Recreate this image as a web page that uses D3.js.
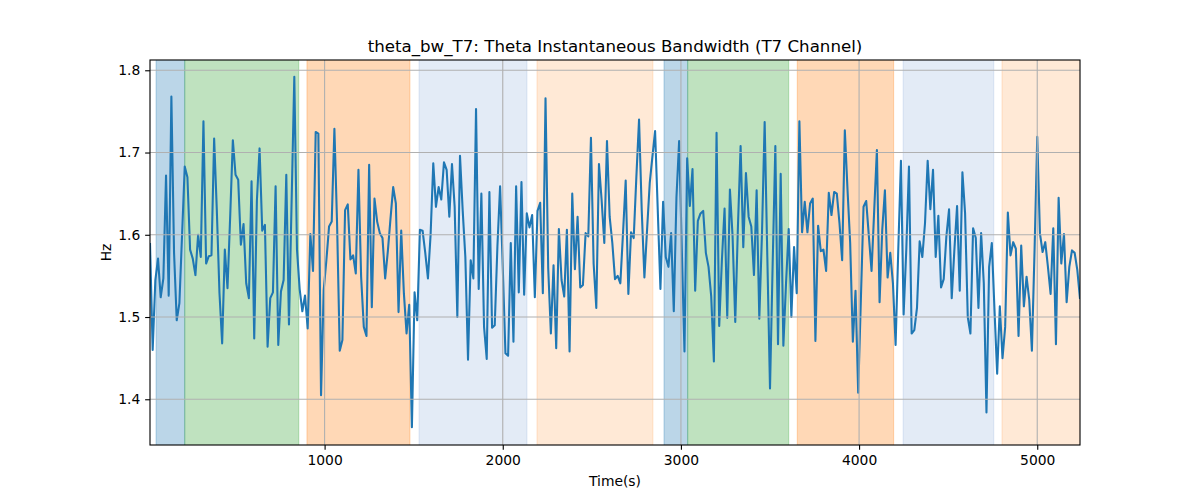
<!DOCTYPE html>
<html>
<head>
<meta charset="utf-8">
<script src="https://cdn.jsdelivr.net/npm/d3@7"></script>
<style>
  html, body { margin: 0; padding: 0; background: #fff; }
  svg { display: block; font-family: "DejaVu Sans", sans-serif; }
</style>
</head>
<body>
<svg id="chart" width="1200" height="500"></svg>
<script>
// ---- data ----
const title = "theta_bw_T7: Theta Instantaneous Bandwidth (T7 Channel)";
const xLabel = "Time(s)";
const yLabel = "Hz";
const timeStart = 20;   // seconds, first sample
const timeStep = 15;    // seconds between samples
const bandwidth = [
  1.590,1.460,1.545,1.571,1.524,1.547,1.672,1.526,1.768,1.578,
  1.496,1.517,1.600,1.683,1.670,1.582,1.571,1.551,1.600,1.573,
  1.738,1.565,1.574,1.575,1.717,1.630,1.529,1.468,1.582,1.535,
  1.622,1.715,1.673,1.667,1.588,1.613,1.541,1.523,1.665,1.474,
  1.642,1.705,1.605,1.612,1.464,1.523,1.530,1.659,1.466,1.531,
  1.545,1.673,1.491,1.642,1.792,1.582,1.534,1.507,1.526,1.486,
  1.601,1.556,1.725,1.723,1.405,1.533,1.569,1.610,1.616,1.729,
  1.614,1.459,1.472,1.630,1.637,1.570,1.575,1.553,1.679,1.549,
  1.488,1.477,1.685,1.512,1.644,1.616,1.602,1.596,1.547,1.580,
  1.620,1.658,1.638,1.506,1.605,1.529,1.480,1.515,1.366,1.530,
  1.496,1.606,1.605,1.578,1.547,1.600,1.687,1.634,1.658,1.643,
  1.688,1.679,1.622,1.686,1.634,1.500,1.696,1.630,1.573,1.448,
  1.569,1.547,1.753,1.534,1.650,1.488,1.449,1.652,1.487,1.490,
  1.586,1.659,1.561,1.456,1.453,1.590,1.470,1.659,1.530,1.664,
  1.527,1.626,1.609,1.624,1.524,1.629,1.639,1.529,1.766,1.560,
  1.480,1.563,1.462,1.607,1.545,1.525,1.606,1.458,1.650,1.558,
  1.622,1.536,1.539,1.602,1.598,1.718,1.565,1.511,1.686,1.642,
  1.590,1.714,1.622,1.590,1.546,1.550,1.541,1.602,1.666,1.528,
  1.603,1.596,1.671,1.740,1.630,1.548,1.606,1.663,1.695,1.726,
  1.630,1.534,1.640,1.573,1.561,1.602,1.507,1.646,1.714,1.582,
  1.458,1.693,1.635,1.680,1.532,1.617,1.626,1.629,1.578,1.561,
  1.525,1.446,1.724,1.489,1.569,1.632,1.499,1.655,1.598,1.494,
  1.610,1.708,1.585,1.675,1.622,1.610,1.551,1.654,1.498,1.602,
  1.737,1.573,1.413,1.565,1.708,1.467,1.674,1.465,1.541,1.607,
  1.500,1.585,1.529,1.738,1.603,1.640,1.603,1.638,1.644,1.471,
  1.611,1.580,1.582,1.556,1.651,1.624,1.652,1.650,1.614,1.569,
  1.727,1.655,1.590,1.470,1.532,1.408,1.521,1.634,1.641,1.598,
  1.556,1.630,1.703,1.518,1.606,1.654,1.548,1.578,1.541,1.466,
  1.582,1.690,1.503,1.582,1.683,1.480,1.484,1.511,1.592,1.573,
  1.614,1.690,1.631,1.679,1.573,1.623,1.536,1.546,1.598,1.631,
  1.523,1.582,1.635,1.532,1.676,1.626,1.500,1.480,1.608,1.596,
  1.511,1.602,1.541,1.384,1.561,1.590,1.509,1.431,1.513,1.450,
  1.488,1.627,1.575,1.591,1.583,1.477,1.587,1.513,1.549,1.521,
  1.459,1.582,1.719,1.602,1.579,1.591,1.561,1.528,1.608,1.467,
  1.645,1.565,1.601,1.518,1.561,1.581,1.578,1.557,1.522
];
const spanStarts = [54, 215, 901, 1530, 2192, 2905, 3038, 3653, 4247, 4802];
const spanEnds   = [215, 855, 1479, 2136, 2843, 3038, 3605, 4194, 4756, 5300];
const spanKinds  = ["A", "B", "C", "D", "E", "A", "B", "C", "D", "E"];
const xTicks = [1000, 2000, 3000, 4000, 5000];
const yTicks = [1.4, 1.5, 1.6, 1.7, 1.8];

// ---- styles ----
const spanFill = {
  A: "rgba(31,119,180,0.3)",
  B: "rgba(44,160,44,0.3)",
  C: "rgba(255,127,14,0.3)",
  D: "rgba(68,122,195,0.15)",
  E: "rgba(255,127,14,0.17)"
};
const lineColor = "#1f77b4";
const gridColor = "#b0b0b0";
const pt = 100 / 72;

// ---- layout ----
const L = 150, R = 1080, T = 60, B = 445;
const W = R - L, H = B - T;

const times = bandwidth.map((_, i) => timeStart + i * timeStep);
const data = bandwidth.map((v, i) => ({ t: times[i], v }));

const x = d3.scaleLinear().domain([times[0], times[times.length - 1]]).range([L, R]);
const y = d3.scaleLinear().domain([1.3444, 1.8125]).range([B, T]);

const svg = d3.select("#chart");
svg.append("defs").append("clipPath").attr("id", "clip")
  .append("rect").attr("x", L).attr("y", T).attr("width", W).attr("height", H);

const plot = svg.append("g").attr("clip-path", "url(#clip)");

// spans
plot.selectAll("rect.span").data(spanStarts.map((s, i) => ({ s, e: spanEnds[i], k: spanKinds[i] })))
  .enter().append("rect").attr("class", "span")
  .attr("x", d => x(d.s)).attr("y", T - 3)
  .attr("width", d => x(d.e) - x(d.s)).attr("height", H + 6)
  .attr("fill", d => spanFill[d.k])
  .attr("stroke", d => spanFill[d.k]).attr("stroke-width", 1);

// grid
const grid = svg.append("g");
grid.selectAll("line.gx").data(xTicks).enter().append("line")
  .attr("x1", d => x(d)).attr("x2", d => x(d)).attr("y1", T).attr("y2", B)
  .attr("stroke", gridColor).attr("stroke-width", 0.8 * pt);
grid.selectAll("line.gy").data(yTicks).enter().append("line")
  .attr("x1", L).attr("x2", R).attr("y1", d => y(d)).attr("y2", d => y(d))
  .attr("stroke", gridColor).attr("stroke-width", 0.8 * pt);

// line
plot.append("path").datum(data)
  .attr("fill", "none").attr("stroke", lineColor).attr("stroke-width", 1.5 * pt)
  .attr("stroke-linejoin", "round").attr("stroke-linecap", "butt")
  .attr("d", d3.line().x(d => x(d.t)).y(d => y(d.v)));

// axes
const xAxis = d3.axisBottom(x).tickValues(xTicks).tickFormat(d3.format("d"))
  .tickSize(3.5 * pt).tickPadding(3.5 * pt);
const yAxis = d3.axisLeft(y).tickValues(yTicks).tickFormat(d3.format(".1f"))
  .tickSize(3.5 * pt).tickPadding(3.5 * pt);

const gx = svg.append("g").attr("transform", `translate(0,${B})`).call(xAxis);
const gy = svg.append("g").attr("transform", `translate(${L},0)`).call(yAxis);
[gx, gy].forEach(g => {
  g.select(".domain").remove();
  g.selectAll(".tick line").attr("stroke", "#000").attr("stroke-width", 0.8 * pt);
  g.selectAll(".tick text").attr("fill", "#000")
    .style("font-family", "'DejaVu Sans', sans-serif").style("font-size", (10 * pt) + "px");
});

// spines
svg.append("rect").attr("x", L).attr("y", T).attr("width", W).attr("height", H)
  .attr("fill", "none").attr("stroke", "#000").attr("stroke-width", 0.8 * pt);

// labels
svg.append("text").attr("x", (L + R) / 2).attr("y", T - 6 * pt)
  .attr("text-anchor", "middle").style("font-size", (12 * pt) + "px").attr("fill", "#000")
  .text(title);
svg.append("text").attr("x", (L + R) / 2).attr("y", 486)
  .attr("text-anchor", "middle").style("font-size", (10 * pt) + "px").attr("fill", "#000")
  .text(xLabel);
svg.append("text").attr("transform", `translate(111,${(T + B) / 2}) rotate(-90)`)
  .attr("text-anchor", "middle").style("font-size", (10 * pt) + "px").attr("fill", "#000")
  .text(yLabel);
</script>
</body>
</html>
